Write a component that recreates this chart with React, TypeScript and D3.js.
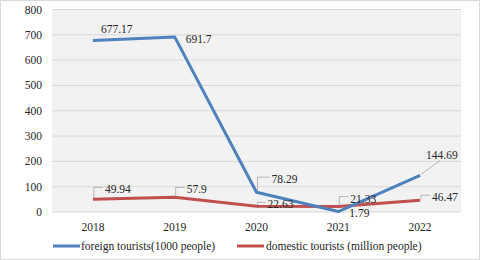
import React from "react";
import * as d3 from "d3";

const WIDTH = 480;
const HEIGHT = 260;

const years = ["2018", "2019", "2020", "2021", "2022"];
const foreignTourists = [677.17, 691.7, 78.29, 1.79, 144.69];
const domesticTourists = [49.94, 57.9, 22.63, 21.33, 46.47];
const yTicks = [0, 100, 200, 300, 400, 500, 600, 700, 800];

const FONT = "'Liberation Serif', 'Times New Roman', Times, serif";
const FS = 11.5;
const BLUE = "#4f81bd";
const RED = "#c0504d";

// label placement relative to the point: [dx, dy, leader style]
const foreignLabelPos: [number, number, string][] = [
  [8, -8, "none"],
  [11, 6, "none"],
  [15, -9, "elbow"],
  [11, 5, "none"],
  [6, -16, "diag"],
];
const domesticLabelPos: [number, number, string][] = [
  [12, -6, "elbow"],
  [12, -4, "elbow"],
  [11, 2, "elbow"],
  [12, -4, "elbow"],
  [12, 1, "elbow"],
];

function Labels({ values, pos, x, y }: any) {
  return (
    <g>
      {values.map((v: number, i: number) => {
        const px = x(years[i]);
        const py = y(v);
        const [dx, dy, kind] = pos[i];
        const tx = px + dx;
        const ty = py + dy;
        let leader = null;
        if (kind === "elbow") {
          leader = (
            <path
              d={`M${px + 1},${py - 1} L${px + 1},${ty - 6} L${tx - 2},${ty - 6}`}
              fill="none"
              stroke="#a6a6a6"
              strokeWidth={0.8}
            />
          );
        } else if (kind === "diag") {
          leader = (
            <path
              d={`M${px + 1},${py - 1} L${tx + 14},${ty + 1}`}
              fill="none"
              stroke="#a6a6a6"
              strokeWidth={0.8}
            />
          );
        }
        return (
          <g key={i}>
            {leader}
            <text x={tx} y={ty} fontSize={FS} fill="#262626" style={{ fontFamily: FONT }}>
              {v}
            </text>
          </g>
        );
      })}
    </g>
  );
}

export default function App() {
  const left = 52;
  const right = 461;
  const top = 9.5;
  const bottom = 212;

  const x = d3.scalePoint<string>().domain(years).range([left, right]).padding(0.5);
  const y = d3.scaleLinear().domain([0, 800]).range([bottom, top]);

  const line = d3
    .line<number>()
    .x((_, i) => x(years[i]) as number)
    .y((d) => y(d));

  const txt = { fontFamily: FONT };

  return (
    <svg
      width={WIDTH}
      height={HEIGHT}
      style={{ position: "absolute", left: 0, top: 0, fontFamily: FONT }}
    >
      <rect x={0.5} y={0.5} width={WIDTH - 1} height={HEIGHT - 1} fill="#fff" stroke="#d9d9d9" />
      <rect x={left} y={top} width={right - left} height={bottom - top} fill="#f2f2f2" />
      {yTicks.map((t) => (
        <g key={t}>
          <line x1={left} x2={right} y1={y(t)} y2={y(t)} stroke="#d9d9d9" strokeWidth={1} />
          <text x={42} y={y(t)} dy="0.35em" textAnchor="end" fontSize={FS} fill="#262626" style={txt}>
            {t}
          </text>
        </g>
      ))}
      {years.map((yr) => (
        <text key={yr} x={x(yr)} y={231} textAnchor="middle" fontSize={FS} fill="#262626" style={txt}>
          {yr}
        </text>
      ))}
      <path d={line(domesticTourists) || ""} fill="none" stroke={RED} strokeWidth={3} strokeLinejoin="round" />
      <path d={line(foreignTourists) || ""} fill="none" stroke={BLUE} strokeWidth={3} strokeLinejoin="round" />
      <Labels values={foreignTourists} pos={foreignLabelPos} x={x} y={y} />
      <Labels values={domesticTourists} pos={domesticLabelPos} x={x} y={y} />
      <g fontSize={FS} fill="#262626" style={txt}>
        <line x1={53} x2={80} y1={246} y2={246} stroke={BLUE} strokeWidth={3} />
        <text x={81} y={246} dy="0.35em">foreign tourists(1000 people)</text>
        <line x1={237} x2={264} y1={246} y2={246} stroke={RED} strokeWidth={3} />
        <text x={266} y={246} dy="0.35em">domestic tourists (million people)</text>
      </g>
    </svg>
  );
}
